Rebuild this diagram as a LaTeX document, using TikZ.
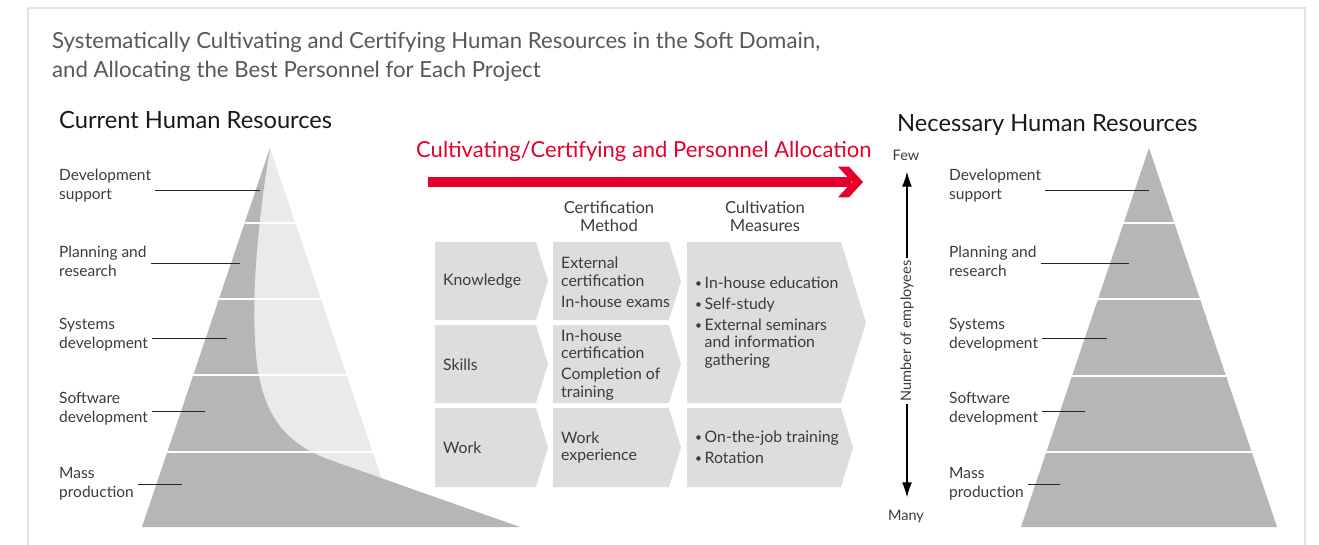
\documentclass[tikz,border=0pt]{standalone}
\usepackage{fontspec}
\setmainfont{Lato}
\usetikzlibrary{positioning, arrows.meta}
\definecolor{fjred}{RGB}{228,0,43}
\definecolor{pyrdark}{RGB}{181,182,182}
\definecolor{pyrlight}{RGB}{233,234,234}
\definecolor{boxgray}{RGB}{220,221,221}
\definecolor{txtgray}{RGB}{62,58,57}
\definecolor{framegray}{RGB}{226,226,226}
\definecolor{titlegray}{RGB}{89,87,87}
\tikzset{
	lbl/.style={
		anchor=west,
		align=left,
		inner sep=4pt,
		text=txtgray,
		font=\fontsize{15.5}{18.8}\selectfont
	},
	leader/.style={draw=black!85, line width=1pt},
	band line/.style={draw=white, line width=1.6pt},
	heading/.style={
		anchor=base west,
		inner sep=0pt,
		text=black!90,
		font=\fontsize{23.7}{27}\selectfont
	},
	titleline/.style={
		anchor=base west,
		inner sep=0pt,
		text=titlegray,
		font=\fontsize{22.2}{26}\selectfont
	},
	boxtxt/.style={
		anchor=west,
		align=left,
		inner sep=0pt,
		text=txtgray,
		font=\fontsize{15.8}{17.5}\selectfont
	},
	colhead/.style={
		align=center,
		inner sep=0pt,
		text=txtgray,
		font=\fontsize{16.6}{18}\selectfont
	},
	axislbl/.style={
		inner sep=2pt,
		text=txtgray,
		font=\fontsize{14.5}{16}\selectfont
	},
	axisarrow/.style={
		draw=black,
		line width=1.3pt,
		-{Latex[length=15pt,width=10pt]}
	},
}
\newcommand{\chevbox}[5]{\fill[boxgray] (#1,#2) -- (#3,#2) -- ({#3+#5},{(#2+#4)/2}) -- (#3,#4) -- (#1,#4) -- cycle;}
\newcommand{\bul}{\makebox[9.5pt][l]{\raisebox{.1ex}{\scalebox{.75}{•}}}}
\newcommand{\ind}{\hspace*{9.5pt}}
\begin{document}
\begin{tikzpicture}[x=1pt, y=-1pt]
	\useasboundingbox (0,0) rectangle (1319,545);
	% frame
	\draw[framegray, line width=1.3pt] (28,546) -- (28,8) -- (1305,8) -- (1305,546);
	\node[titleline] (title1) at (52,48.3) {Systematically Cultivating and Certifying Human Resources in the Soft Domain,};
	\node[titleline] (title2) at (52,77.7) {and Allocating the Best Personnel for Each Project};
	\node[heading] (curhead) at (59,128.3) {Current Human Resources};
	\node[heading] (nechead) at (897,131.7) {Necessary Human Resources};
	% current pyramid
	\fill[pyrlight] (270,148) -- (398,527) -- (142,527) -- cycle;
	\fill[pyrdark] (142,527) -- (270,148) .. controls (258,220) and (252,290) .. (255,340)
		.. controls (258,420) and (290,445) .. (330,460) -- (520,527) -- cycle;
	\begin{scope}
		\clip (270,148) -- (398,527) -- (142,527) -- cycle;
		\foreach \y in {223,299,375,452}
			\draw[band line] (130,\y) -- (410,\y);
	\end{scope}
	% necessary pyramid
	\fill[pyrdark] (1149,148) -- (1277,527) -- (1021,527) -- cycle;
	\begin{scope}
		\clip (1149,148) -- (1277,527) -- (1021,527) -- cycle;
		\foreach \y in {223,299,376,452}
			\draw[band line] (1010,\y) -- (1290,\y);
	\end{scope}
	% layer labels
	\foreach \name/\txt/\ymid/\yline/\lend/\rend in {
		ds/{Development\\support}/186/191/260/1149,
		pr/{Planning and\\research}/261/264/240/1129,
		sd/{Systems\\development}/335/338/227/1107,
		sw/{Software\\development}/409/411/205/1085,
		mp/{Mass\\production}/484/484/182/1060}{
		\node[lbl] (c\name) at (55,\ymid) {\txt};
		\node[lbl] (n\name) at (945,\ymid) {\txt};
		\coordinate (c\name end) at (\lend,\yline);
		\coordinate (n\name end) at (\rend,\yline);
		\draw[leader] (c\name end) -- (c\name end -| c\name.east);
		\draw[leader] (n\name end) -- (n\name end -| n\name.east);
	}
	% red arrow
	\node[anchor=base west, inner sep=0pt, text=fjred, font=\fontsize{22}{25}\selectfont] (flow) at (416,157.3) {Cultivating/Certifying and Personnel Allocation};
	\fill[fjred] (428,176.7) rectangle (851,187.3);
	\fill[fjred] (838,166.7) -- (849,166.7) -- (863,182) -- (849,197.3) -- (838,197.3) -- (852,182) -- cycle;
	% column heads
	\node[colhead] (certhead) at (609,216.7) {Certification\\Method};
	\node[colhead] (culthead) at (765,216.7) {Cultivation\\Measures};
	% boxes
	\chevbox{435}{242}{536}{320}{12}
	\chevbox{435}{325}{536}{403}{12}
	\chevbox{435}{408}{536}{487}{12}
	\chevbox{553}{242}{669}{320}{12}
	\chevbox{553}{325}{669}{403}{12}
	\chevbox{553}{408}{669}{487}{12}
	\chevbox{687}{242}{841}{403}{25}
	\chevbox{687}{408}{841}{487}{12}
	\node[boxtxt] (know) at (443,281) {Knowledge};
	\node[boxtxt] (skill) at (443,365) {Skills};
	\node[boxtxt] (work) at (443,447.5) {Work};
	\node[boxtxt] (certk) at (561,282) {External\\certification\\[3.5pt]In-house exams};
	\node[boxtxt] (certs) at (561,365) {In-house\\certification\\[3.5pt]Completion of\\training};
	\node[boxtxt] (certw) at (561,447.5) {Work\\experience};
	\node[boxtxt] (measks) at (695,322.5) {\bul In-house education\\[3.5pt]\bul Self-study\\[3.5pt]\bul External seminars\\\ind and information\\\ind gathering};
	\node[boxtxt] (measw) at (695,447.5) {\bul On-the-job training\\[3.5pt]\bul Rotation};
	% number of employees axis
	\node[axislbl] (few) at (906,155) {Few};
	\node[axislbl] (many) at (906,517) {Many};
	\node[axislbl, rotate=90, inner sep=3pt] (numemp) at (907,331) {Number of employees};
	\coordinate (fewtip) at (907,171.7);
	\coordinate (manytip) at (907,497.3);
	\draw[axisarrow] (numemp.east) -- (fewtip);
	\draw[axisarrow] (numemp.west) -- (manytip);
\end{tikzpicture}
\end{document}
